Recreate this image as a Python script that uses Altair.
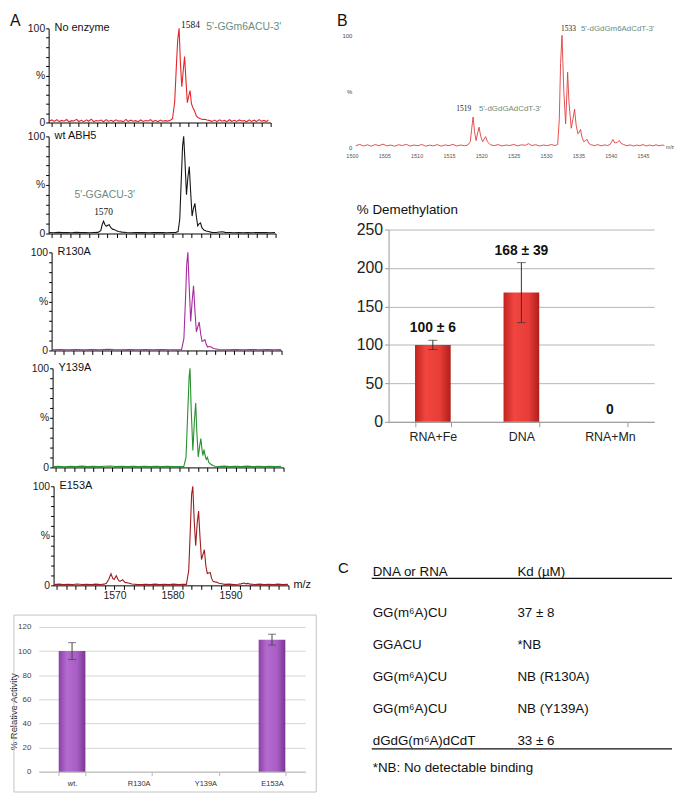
import altair as alt
import pandas as pd

SANS = "Liberation Sans"
SERIF = "Liberation Serif"
SEQ_GREEN = "#6b8c7c"

# ---------------- Panel A: mass spectra (m/z, % intensity) ----------------
no_enzyme = [
    (1559.6, 1.5), (1560.1, 2.8), (1560.5, 1.2), (1561.0, 3.0), (1561.4, 1.0), (1561.9, 2.2), (1562.3, 1.4),
    (1562.8, 3.2), (1563.2, 0.8), (1563.7, 2.0), (1564.1, 1.6), (1564.6, 3.4), (1565.0, 1.1), (1565.5, 2.4),
    (1565.9, 0.9), (1566.4, 2.9), (1566.8, 1.3), (1567.3, 3.6), (1567.7, 1.0), (1568.2, 2.1), (1568.6, 1.7),
    (1569.1, 2.6), (1569.5, 0.8), (1570.0, 3.1), (1570.4, 1.2), (1570.9, 2.4), (1571.3, 1.0), (1571.8, 2.8),
    (1572.2, 1.5), (1572.7, 1.9), (1573.1, 0.7), (1573.6, 3.3), (1574.0, 1.2), (1574.5, 2.5), (1574.9, 1.4),
    (1575.4, 2.0), (1575.8, 0.9), (1576.3, 2.7), (1576.7, 1.1), (1577.2, 2.2), (1577.6, 1.6), (1578.1, 3.0),
    (1578.5, 1.0), (1579.0, 2.3), (1579.4, 0.8), (1579.9, 2.6), (1580.3, 1.3), (1580.8, 2.0), (1581.2, 1.5),
    (1581.7, 2.4), (1582.1, 4), (1582.5, 22), (1582.8, 60), (1583.05, 88), (1583.3, 100), (1583.55, 62),
    (1583.8, 38), (1584.05, 55), (1584.3, 70), (1584.55, 45), (1584.8, 21), (1585.05, 28), (1585.3, 34),
    (1585.55, 20), (1585.8, 16), (1586.1, 12.5), (1586.45, 7), (1586.8, 5), (1587.2, 4), (1587.6, 3.2),
    (1588.0, 3.5), (1588.4, 2.6), (1588.9, 2.0), (1589.3, 1.2), (1589.8, 2.6), (1590.2, 1.0), (1590.7, 2.9),
    (1591.1, 1.4), (1591.6, 2.2), (1592.0, 0.9), (1592.5, 3.0), (1592.9, 1.3), (1593.4, 2.4), (1593.8, 1.1),
    (1594.3, 2.7), (1594.7, 1.6), (1595.2, 2.0), (1595.6, 0.8), (1596.1, 2.8), (1596.5, 1.2), (1597.0, 2.5),
    (1597.4, 1.0), (1597.9, 3.1), (1598.3, 1.4), (1598.8, 2.2), (1599.2, 1.0), (1599.6, 2.6),
]
wt_abh5 = [
    (1559.6, 1.0), (1560.4, 0.8), (1561.2, 1.2), (1562.0, 0.9), (1562.8, 1.1), (1563.6, 0.8), (1564.4, 1.2),
    (1565.2, 0.9), (1566.0, 1.1), (1566.8, 0.8), (1567.6, 1.0), (1568.3, 1.2), (1568.8, 3), (1569.05, 9),
    (1569.3, 12.6), (1569.55, 9), (1569.8, 7.5), (1570.05, 8.5), (1570.3, 9), (1570.6, 6), (1570.9, 4.5),
    (1571.25, 4), (1571.6, 2.8), (1572.0, 2), (1572.6, 1.4), (1573.4, 1.0), (1574.2, 0.8), (1575.0, 1.1),
    (1575.8, 0.9), (1576.6, 1.0), (1577.4, 0.8), (1578.2, 1.1), (1579.0, 0.9), (1579.8, 1.0), (1580.6, 0.8),
    (1581.4, 1.0), (1582.2, 1.2), (1582.6, 2), (1582.9, 15), (1583.2, 60), (1583.4, 90), (1583.6, 100),
    (1583.8, 78), (1584.1, 40), (1584.35, 58), (1584.6, 69), (1584.85, 42), (1585.1, 18), (1585.35, 26),
    (1585.6, 31), (1585.85, 18), (1586.1, 8), (1586.35, 10), (1586.6, 11), (1586.85, 6), (1587.2, 3.5),
    (1587.6, 2.5), (1588.0, 2), (1588.6, 1.2), (1589.4, 1.0), (1590.0, 1.6), (1590.5, 1.8), (1591.0, 1.2),
    (1591.8, 1.0), (1592.6, 0.8), (1593.4, 1.1), (1594.2, 0.8), (1595.0, 1.0), (1595.8, 0.8), (1596.6, 1.1),
    (1597.4, 0.9), (1598.2, 1.0), (1599.0, 0.8), (1599.9, 1.0),
]
r130a = [
    (1559.6, 0.8), (1561.0, 0.9), (1562.4, 0.7), (1563.8, 0.9), (1565.2, 0.8), (1566.6, 1.0), (1568.0, 0.8),
    (1569.4, 1.3), (1570.4, 1.0), (1571.8, 0.8), (1573.2, 0.9), (1574.6, 0.7), (1576.0, 0.9), (1577.4, 0.8),
    (1578.8, 0.9), (1580.2, 0.7), (1581.6, 0.8), (1582.4, 1.0), (1582.8, 12), (1583.1, 55), (1583.3, 88),
    (1583.5, 100), (1583.7, 70), (1584.0, 29.5), (1584.25, 50), (1584.5, 66), (1584.75, 40), (1585.0, 19),
    (1585.25, 24), (1585.5, 29), (1585.75, 17), (1586.0, 9.4), (1586.25, 10), (1586.5, 11), (1586.75, 6),
    (1587.0, 3.4), (1587.3, 4), (1587.6, 3.5), (1588.0, 2), (1588.5, 1.5), (1589.0, 1.0), (1590.4, 0.8),
    (1591.8, 0.9), (1593.2, 0.7), (1594.6, 0.9), (1596.0, 0.8), (1597.4, 0.9), (1598.8, 0.8), (1599.9, 0.9),
]
y139a = [
    (1559.6, 0.8), (1560.6, 1.2), (1561.6, 0.7), (1562.6, 1.1), (1563.6, 0.8), (1564.6, 1.3), (1565.6, 0.9),
    (1566.6, 1.2), (1567.6, 0.8), (1568.6, 1.1), (1569.6, 1.4), (1570.6, 0.9), (1571.6, 1.2), (1572.6, 0.8),
    (1573.6, 1.1), (1574.6, 0.8), (1575.6, 1.2), (1576.6, 0.9), (1577.6, 1.1), (1578.6, 0.8), (1579.6, 1.2),
    (1580.6, 0.9), (1581.6, 1.0), (1582.5, 0.8), (1582.9, 10), (1583.2, 55), (1583.45, 92), (1583.6, 100),
    (1583.8, 60), (1584.1, 17), (1584.35, 45), (1584.6, 65), (1584.8, 35), (1585.05, 10.6), (1585.3, 22),
    (1585.5, 29), (1585.7, 18), (1585.85, 12), (1586.05, 18), (1586.25, 12), (1586.45, 8), (1586.65, 10),
    (1586.9, 5), (1587.2, 3.5), (1587.6, 2), (1588.0, 1.2), (1588.6, 1.0), (1589.6, 1.3), (1590.6, 0.8),
    (1591.6, 1.2), (1592.6, 0.9), (1593.6, 1.3), (1594.6, 0.8), (1595.6, 1.1), (1596.6, 0.9), (1597.6, 1.2),
    (1598.6, 0.8), (1599.6, 1.1),
]
e153a = [
    (1559.6, 0.8), (1560.4, 1.2), (1561.2, 0.7), (1562.0, 1.1), (1562.8, 0.9), (1563.6, 1.3), (1564.4, 0.8),
    (1565.2, 1.1), (1566.0, 0.9), (1566.8, 1.2), (1567.6, 0.8), (1568.2, 1.2), (1568.6, 2.0), (1569.0, 6),
    (1569.4, 11.7), (1569.7, 7), (1569.95, 6), (1570.3, 9.7), (1570.7, 5), (1570.95, 4), (1571.4, 5.7),
    (1571.8, 3), (1572.4, 2.3), (1573.0, 1.4), (1573.8, 1.0), (1574.6, 0.8), (1575.4, 1.1), (1576.2, 0.9),
    (1577.0, 1.2), (1577.8, 0.8), (1578.6, 1.1), (1579.4, 0.9), (1580.2, 1.2), (1581.0, 0.8), (1581.8, 1.0),
    (1582.4, 1.0), (1582.8, 15), (1583.1, 60), (1583.3, 92), (1583.5, 100), (1583.75, 65), (1584.0, 40),
    (1584.25, 62), (1584.5, 75), (1584.75, 48), (1585.0, 26), (1585.25, 31), (1585.5, 36), (1585.75, 20),
    (1586.0, 12), (1586.25, 12.5), (1586.5, 13), (1586.75, 7), (1587.0, 4), (1587.3, 3.5), (1587.6, 3.3),
    (1588.0, 2.2), (1588.5, 1.7), (1589.0, 1.0), (1589.8, 1.2), (1590.6, 0.9), (1591.3, 1.1), (1591.8, 1.5),
    (1592.3, 2.3), (1592.7, 1.5), (1593.0, 2.0), (1593.4, 1.2), (1594.2, 0.9), (1595.0, 1.2), (1595.8, 0.8),
    (1596.6, 1.1), (1597.4, 0.9), (1598.2, 1.2), (1599.0, 0.8), (1599.9, 1.0),
]
spectra = [no_enzyme, wt_abh5, r130a, y139a, e153a]
spectra_names = ["No enzyme", "wt ABH5", "R130A", "Y139A", "E153A"]
spectra_colors = ["#e3262b", "#161616", "#a52a9f", "#27902f", "#9c1c20"]
a_tick_labels = [1570, 1580, 1590]

# peak annotations: (panel, text, m/z, %)
peak_numbers = [(0, "1584", 1583.3, 100), (1, "1570", 1569.3, 12.6)]
peak_seqs = [(0, "5'-GGm6ACU-3'", 1588.25, 100), (1, "5'-GGACU-3'", 1569.5, 12.6)]

# ---------------- Panel A bottom: relative activity ----------------
act_cats = ["wt.", "R130A", "Y139A", "E153A"]
act_vals = [100, 0, 0, 109.5]
act_err = [7, 0, 0, 4.5]
act_ticks = [0, 20, 40, 60, 80, 100, 120]

# ---------------- Panel B spectrum ----------------
dna_spec = [
    (1500.6, 1.5), (1501.2, 2.5), (1501.8, 1.2), (1502.4, 2.2), (1503.0, 1.0), (1503.6, 2.4), (1504.2, 1.5),
    (1504.8, 2.8), (1505.4, 1.3), (1506.0, 2.0), (1506.6, 1.0), (1507.2, 2.3), (1507.8, 1.6), (1508.4, 2.6),
    (1509.0, 1.1), (1509.6, 2.0), (1510.2, 1.4), (1510.8, 2.5), (1511.4, 1.0), (1512.0, 1.9), (1512.6, 1.3),
    (1513.2, 2.4), (1513.8, 1.0), (1514.4, 2.1), (1515.0, 1.5), (1515.6, 2.6), (1516.2, 1.2), (1516.8, 2.0),
    (1517.4, 1.4), (1517.9, 2.0), (1518.3, 5), (1518.5, 16), (1518.73, 27), (1518.95, 14), (1519.19, 6),
    (1519.4, 12), (1519.65, 18), (1519.9, 10), (1520.2, 5), (1520.45, 7.5), (1520.67, 9.5), (1520.95, 5),
    (1521.4, 2.2), (1522.0, 1.5), (1522.6, 2.4), (1523.2, 1.2), (1523.8, 2.0), (1524.4, 1.6), (1525.0, 2.5),
    (1525.6, 1.3), (1526.2, 2.2), (1526.8, 1.8), (1527.3, 3.2), (1527.8, 1.6), (1528.4, 2.3), (1529.0, 1.2),
    (1529.6, 2.0), (1530.2, 1.5), (1530.8, 2.4), (1531.4, 1.6), (1531.8, 2.5), (1532.05, 25), (1532.25, 75),
    (1532.47, 100), (1532.75, 50), (1533.03, 21), (1533.2, 45), (1533.34, 67), (1533.55, 40), (1533.9, 17),
    (1534.15, 25), (1534.41, 34), (1534.65, 20), (1534.92, 12), (1535.1, 13), (1535.33, 16), (1535.55, 9),
    (1535.84, 5), (1536.1, 6), (1536.35, 7), (1536.6, 3.5), (1537.0, 2.2), (1537.5, 1.5), (1538.0, 2.4),
    (1538.5, 1.3), (1539.0, 2.1), (1539.5, 1.6), (1539.9, 2.5), (1540.15, 5), (1540.33, 7), (1540.6, 4),
    (1541.0, 4.2), (1541.3, 6), (1541.6, 3.5), (1542.0, 2.4), (1542.5, 1.4), (1543.0, 2.2), (1543.5, 1.1),
    (1544.0, 2.0), (1544.5, 1.5), (1545.0, 2.4), (1545.5, 1.2), (1546.0, 2.0), (1546.5, 1.3), (1547.0, 2.2),
    (1547.5, 1.4), (1548.0, 2.0), (1548.3, 1.5),
]
b_tick_values = [1500, 1505, 1510, 1515, 1520, 1525, 1530, 1535, 1540, 1545]
b_numbers = [("1533", 1532.47, 100), ("1519", 1518.73, 27)]
b_seqs = [("5'-dGdGm6AdCdT-3'", 1535.4, 100), ("5'-dGdGAdCdT-3'", 1519.63, 27)]

# ---------------- Panel B bars ----------------
dm_cats = ["RNA+Fe", "DNA", "RNA+Mn"]
dm_vals = [100, 168, 0]
dm_err = [6, 39, 0]
dm_labels = ["100 ± 6", "168 ± 39", "0"]
dm_ticks = [0, 50, 100, 150, 200, 250]

# ---------------- Panel C table ----------------
c_header = ["DNA or RNA", "Kd (µM)"]
c_seq = ["GG(m⁶A)CU", "GGACU", "GG(m⁶A)CU", "GG(m⁶A)CU", "dGdG(m⁶A)dCdT"]
c_kd = ["37 ± 8", "*NB", "NB (R130A)", "NB (Y139A)", "33 ± 6"]
c_note = ["*NB: No detectable binding"]

# ---------------- layout: page-pixel geometry of each panel ----------------
PAGE_L, PAGE_R, PAGE_T, PAGE_B = 8, 675, 8, 795
MID = 336     # boundary between left and right column
LX0 = 38      # left column origin (x)
RX0 = 355     # right column origin (x)
TOP = 24      # first row origin (y)
# spectra: plot left, plot right, 100-line y, 0-line y
A_GEOM = [(48, 272, 24, 119), (48, 277, 133, 231), (51, 283, 250, 349), (52, 285, 367, 467), (53, 290, 486, 586)]
A_DOMAIN = [1559.5, 1600]
# activity chart: 120-line, 0-line, box top, box bottom
ACT = (628, 774, 616, 795)


def one(**kw):
    return pd.DataFrame({k: [v] for k, v in kw.items()})


def ghost(x0, x1, y0, y1):
    """invisible rectangle that fixes the outer extent of a column"""
    return alt.Chart(one(f=0)).mark_rect(opacity=0).encode(
        x=alt.value(x0), x2=alt.value(x1), y=alt.value(y0), y2=alt.value(y1))


def label(text, x, y, size, align="left", baseline="middle", font=SANS, weight="normal", color="#111"):
    return alt.Chart(one(t=text)).mark_text(
        align=align, baseline=baseline, font=font, fontSize=size, fontWeight=weight, color=color
    ).encode(x=alt.value(x), y=alt.value(y), text="t:N")


a_ticks = [round(1560 + k * 5 / 3, 3) for k in range(25)]
A_XLAB = ("indexof([" + ",".join(str(v) for v in a_tick_labels) +
          "], round(datum.value)) >= 0 && abs(datum.value - round(datum.value)) < 0.01 ? format(datum.value, 'd') : ''")
Y_LAB = "datum.value === 100 ? '100' : datum.value === 50 ? '%' : datum.value === 0 ? '0' : ''"


def spectrum(i, cell_top):
    L, R, T, B = A_GEOM[i]
    w = R - LX0
    h = B - cell_top
    last = i == 4
    xsc = alt.Scale(domain=A_DOMAIN, nice=False, zero=False, range=[L - LX0, R - LX0])
    ysc = alt.Scale(domain=[0, 100], nice=False, zero=False, range=[h, T - cell_top])
    xaxis = alt.Axis(values=a_ticks, grid=False, domainColor="#000", tickColor="#000", tickSize=4,
                     labels=last, labelExpr=A_XLAB, labelFont=SANS, labelFontSize=10.5, labelColor="#222",
                     labelPadding=1, labelFlush=False, labelOverlap=False)
    yaxis = alt.Axis(values=list(range(0, 101, 10)), grid=False, domainColor="#000", tickColor="#000",
                     tickSize=3, labelExpr=Y_LAB, labelFont=SANS, labelFontSize=10.5, labelColor="#222",
                     labelPadding=1, labelOverlap=False, offset=-(L - LX0))
    X = alt.X("mz:Q", scale=xsc, axis=xaxis, title=None)
    Y = alt.Y("pct:Q", scale=ysc, axis=yaxis, title=None)
    df = pd.DataFrame(spectra[i], columns=["mz", "pct"])
    line = alt.Chart(df).mark_line(color=spectra_colors[i], strokeWidth=1.1).encode(x=X, y=Y)
    layers = [line, label(spectra_names[i], L - LX0 + 6, T - cell_top, 11)]
    for (p, t, mz, pct) in peak_numbers:
        if p == i:
            align, dx, dy = ("left", 2, -3) if p == 0 else ("center", 0, -9)
            layers.append(alt.Chart(one(t=t, mz=mz, pct=pct)).mark_text(
                align=align, baseline="middle", font=SERIF, fontSize=9.5, color="#111", dx=dx, dy=dy
            ).encode(x=X, y=Y, text="t:N"))
    for (p, t, mz, pct) in peak_seqs:
        if p == i:
            align, dy = ("left", -1.5) if p == 0 else ("center", -26)
            layers.append(alt.Chart(one(t=t, mz=mz, pct=pct)).mark_text(
                align=align, baseline="middle", font=SANS, fontSize=10.5, color=SEQ_GREEN, dy=dy
            ).encode(x=X, y=Y, text="t:N"))
    if i == 0:
        layers.append(ghost(PAGE_L - LX0, 20 - LX0, PAGE_T - TOP, 10 - TOP))
        layers.append(label("A", 9 - LX0, 9 - TOP, 16, baseline="top"))
    if last:
        layers.append(label("m/z", R - LX0 + 5, h, 11))
    return alt.layer(*layers).properties(width=w, height=h)


# ---- Panel A activity bars ----
def activity(cell_top):
    y120, y0, box_t, box_b = ACT
    w = 307 - LX0
    h = y0 - cell_top
    df = pd.DataFrame({"cat": act_cats, "val": act_vals, "err": act_err})
    df["lo"] = df["val"] - df["err"]
    df["hi"] = df["val"] + df["err"]
    xA = alt.X("cat:N", sort=act_cats, title=None, scale=alt.Scale(paddingInner=0.6, paddingOuter=0.3),
               axis=alt.Axis(labelAngle=0, tickBand="extent", domainColor="#b8b8b8", tickColor="#b8b8b8",
                             tickSize=4, labelFont=SANS, labelFontSize=7.5, labelColor="#333", labelPadding=4))
    ysc = alt.Scale(domain=[0, 120], nice=False, range=[h, y120 - cell_top])
    yaxis = alt.Axis(values=act_ticks, grid=True, gridColor="#d6d6d6", domain=False,
                     ticks=False, labelFont=SANS, labelFontSize=8, labelColor="#444", labelPadding=8,
                     labelOverlap=False, titleFont=SANS, titleFontSize=9.5, titleFontWeight="normal",
                     titleColor="#222", titleX=18 - LX0, titleY=(y120 + y0) / 2 + 12 - cell_top,
                     titleAngle=270, titleAlign="center", titleBaseline="bottom")
    title = "% Relative Activity"
    grad = {"gradient": "linear", "x1": 0, "x2": 1, "y1": 0, "y2": 0,
            "stops": [{"offset": 0, "color": "#8a40a5"}, {"offset": 0.3, "color": "#b46bcf"},
                      {"offset": 0.7, "color": "#a85dc4"}, {"offset": 1, "color": "#7a3592"}]}
    bars = alt.Chart(df).mark_bar(color=grad).encode(
        x=xA, y=alt.Y("val:Q", scale=ysc, axis=yaxis, title=title))
    err = alt.Chart(df).transform_filter("datum.err > 0")
    rule = err.mark_rule(color="#444", strokeWidth=1).encode(
        x=xA, y=alt.Y("lo:Q", scale=ysc, axis=yaxis, title=title), y2="hi:Q")
    cap_hi = err.mark_tick(color="#444", thickness=1, size=8).encode(
        x=xA, y=alt.Y("hi:Q", scale=ysc, axis=yaxis, title=title))
    cap_lo = err.mark_tick(color="#444", thickness=1, size=8).encode(
        x=xA, y=alt.Y("lo:Q", scale=ysc, axis=yaxis, title=title))
    box = alt.Chart(one(f=0)).mark_rect(fillOpacity=0, stroke="#c2c2c2", strokeWidth=1).encode(
        x=alt.value(13 - LX0), x2=alt.value(318 - LX0), y=alt.value(box_t - cell_top),
        y2=alt.value(box_b - 0.5 - cell_top))
    edge = ghost(PAGE_L - LX0, MID - LX0, PAGE_B - 3 - cell_top, PAGE_B - cell_top)
    return alt.layer(bars, rule, cap_hi, cap_lo, edge, box).properties(width=w, height=h)


# ---- Panel B spectrum ----
def b_spectrum(cell_top):
    w = 668 - RX0
    h = 144 - cell_top
    xsc = alt.Scale(domain=[1500, 1548.4], nice=False, zero=False, range=[352 - RX0, 668 - RX0])
    ysc = alt.Scale(domain=[0, 100], nice=False, zero=False, range=[h, 31 - cell_top])
    X = alt.X("mz:Q", scale=xsc, title=None,
              axis=alt.Axis(values=b_tick_values, format="d", grid=False, domain=False, ticks=False,
                            labelFont=SANS, labelFontSize=5.5, labelColor="#555", labelPadding=6,
                            labelFlush=False, labelOverlap=False))
    Y = alt.Y("pct:Q", scale=ysc, title=None,
              axis=alt.Axis(values=[0, 50, 100], grid=False, domain=False, ticks=False, labelExpr=Y_LAB,
                            labelFont=SANS, labelFontSize=6, labelColor="#444", labelPadding=3))
    df = pd.DataFrame(dna_spec, columns=["mz", "pct"])
    line = alt.Chart(df).mark_line(color="#e23b3b", strokeWidth=0.9).encode(x=X, y=Y)
    layers = [line, ghost(MID - RX0, PAGE_R - RX0, PAGE_T - cell_top, 10 - cell_top)]
    for t, mz, pct in b_numbers:
        align, dx, dy = ("left", -1, -6) if pct == 100 else ("right", -2, -8)
        layers.append(alt.Chart(one(t=t, mz=mz, pct=pct)).mark_text(
            align=align, baseline="middle", font=SERIF, fontSize=7.5, color="#222", dx=dx, dy=dy
        ).encode(x=X, y=Y, text="t:N"))
    for t, mz, pct in b_seqs:
        dy = -6 if pct == 100 else -8
        layers.append(alt.Chart(one(t=t, mz=mz, pct=pct)).mark_text(
            align="left", baseline="middle", font=SANS, fontSize=8, color=SEQ_GREEN, dy=dy
        ).encode(x=X, y=Y, text="t:N"))
    layers.append(label("m/z", w + 1, h, 5, color="#444"))
    layers.append(label("B", 337 - RX0, 9 - cell_top, 16, baseline="top"))
    return alt.layer(*layers).properties(width=w, height=h)


# ---- Panel B demethylation bars ----
def demeth(cell_top):
    w = 657 - RX0
    h = 421 - cell_top
    L = 389 - RX0
    df = pd.DataFrame({"cat": dm_cats, "val": dm_vals, "err": dm_err, "label": dm_labels})
    df["lo"] = df["val"] - df["err"]
    df["hi"] = df["val"] + df["err"]
    xB = alt.X("cat:N", sort=dm_cats, title=None,
               scale=alt.Scale(paddingInner=0.597, paddingOuter=0.2985, range=[L, w]),
               axis=alt.Axis(labelAngle=0, tickBand="extent", domainColor="#999", tickColor="#999", tickSize=5,
                             labelFont=SANS, labelFontSize=12.5, labelColor="#222", labelPadding=4))
    ysc = alt.Scale(domain=[0, 250], nice=False, range=[h, 227 - cell_top])
    yaxis = alt.Axis(values=dm_ticks, grid=True, gridColor="#b4b4b4",
                     domainColor="#999", tickColor="#999", tickSize=4, labelFont=SANS,
                     labelFontSize=16, labelColor="#222", labelPadding=2, labelOverlap=False, offset=-L)
    grad = {"gradient": "linear", "x1": 0, "x2": 1, "y1": 0, "y2": 0,
            "stops": [{"offset": 0, "color": "#c42320"}, {"offset": 0.3, "color": "#f0463f"},
                      {"offset": 0.7, "color": "#e83d37"}, {"offset": 1, "color": "#b01e1b"}]}
    bars = alt.Chart(df).mark_bar(color=grad).encode(x=xB, y=alt.Y("val:Q", scale=ysc, axis=yaxis, title=None))
    err = alt.Chart(df).transform_filter("datum.err > 0")
    rule = err.mark_rule(color="#333", strokeWidth=1).encode(
        x=xB, y=alt.Y("lo:Q", scale=ysc, axis=yaxis, title=None), y2="hi:Q")
    cap_hi = err.mark_tick(color="#333", thickness=1, size=9).encode(
        x=xB, y=alt.Y("hi:Q", scale=ysc, axis=yaxis, title=None))
    cap_lo = err.mark_tick(color="#333", thickness=1, size=9).encode(
        x=xB, y=alt.Y("lo:Q", scale=ysc, axis=yaxis, title=None))
    txt = alt.Chart(df).mark_text(font=SANS, fontSize=14, fontWeight="bold", baseline="bottom", dy=-5,
                                  color="#111").encode(
        x=xB, y=alt.Y("hi:Q", scale=ysc, axis=yaxis, title=None), text="label:N")
    title = label("% Demethylation", 357 - RX0, 207 - cell_top, 13.5)
    return alt.layer(bars, rule, cap_hi, cap_lo, txt, title).properties(width=w, height=h)


# ---- Panel C table ----
def table(cell_top):
    w = PAGE_R - RX0
    h = 780 - cell_top
    df = pd.DataFrame({"row": [1, 2, 3, 4, 5], "seq": c_seq, "kd": c_kd})
    yT = alt.Y("row:Q", scale=alt.Scale(domain=[1, 5], range=[614 - cell_top, 743 - cell_top]), axis=None)
    x1, x2 = 373 - RX0, 519 - RX0
    seq = alt.Chart(df).mark_text(align="left", baseline="middle", font=SANS, fontSize=13.5, color="#111").encode(
        x=alt.value(x1), y=yT, text="seq:N")
    kd = alt.Chart(df).mark_text(align="left", baseline="middle", font=SANS, fontSize=13.5, color="#111").encode(
        x=alt.value(x2), y=yT, text="kd:N")
    head1 = label(c_header[0], x1, 573 - cell_top, 13.5)
    head2 = label(c_header[1], x2, 573 - cell_top, 13.5)
    line1 = alt.Chart(one(f=0)).mark_rule(color="#111", strokeWidth=1.2).encode(
        x=alt.value(372 - RX0), x2=alt.value(w), y=alt.value(579 - cell_top))
    line2 = alt.Chart(one(f=0)).mark_rule(color="#111", strokeWidth=1.2).encode(
        x=alt.value(372 - RX0), x2=alt.value(w), y=alt.value(751 - cell_top))
    note = label(c_note[0], x1, 770 - cell_top, 13.5)
    letter = label("C", 338 - RX0, 569 - cell_top, 15)
    edge = ghost(MID - RX0, PAGE_R - RX0, PAGE_B - 3 - cell_top, PAGE_B - cell_top)
    return alt.layer(seq, kd, head1, head2, line1, line2, note, letter, edge).properties(width=w, height=h)


left_cells = []
top = TOP
for i in range(5):
    left_cells.append(spectrum(i, top))
    top = A_GEOM[i][3]
left_cells.append(activity(top))

right_cells = [b_spectrum(TOP), demeth(144), table(421)]

left = alt.vconcat(*left_cells, spacing=0, bounds="flush")
right = alt.vconcat(*right_cells, spacing=0, bounds="flush")
chart = alt.hconcat(left, right, spacing=0).properties(padding=0, background="white").configure(
    font=SANS, view=alt.ViewConfig(stroke="transparent"))

chart.save("out.html", embed_options={"renderer": "svg", "actions": False})
